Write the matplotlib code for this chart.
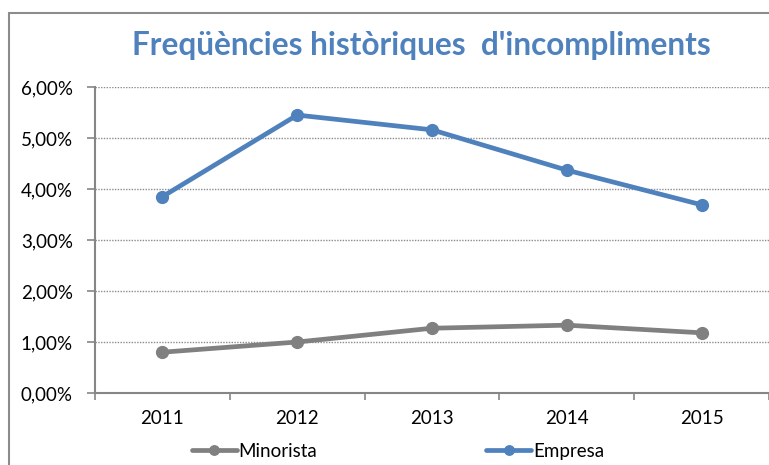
import matplotlib
matplotlib.use("Agg")
import matplotlib.pyplot as plt
from matplotlib.patches import Rectangle
from matplotlib.ticker import FuncFormatter

years = ["2011", "2012", "2013", "2014", "2015"]
minorista = [0.80, 1.00, 1.27, 1.33, 1.18]
empresa = [3.85, 5.45, 5.16, 4.37, 3.69]

plt.rcParams['font.family'] = ['Lato', 'DejaVu Sans']

W, H = 769, 465
fig = plt.figure(figsize=(W / 100, H / 100), dpi=100)

# outer chart border (cropped on right and bottom in the reference)
fig.patches.append(Rectangle((9 / W, -0.1), 1.2, (H - 13) / H + 0.1,
                             transform=fig.transFigure, fill=False,
                             edgecolor='#8c8c8c', linewidth=1.5))

ax = fig.add_axes([95 / W, (H - 393) / H, (W - 95) / W, (393 - 87) / H])
x = list(range(len(years)))

ax.plot(x, minorista, color='#808080', lw=3.4, marker='o', ms=8.5, label='Minorista',
        solid_capstyle='round', zorder=3)
ax.plot(x, empresa, color='#4F81BD', lw=3.4, marker='o', ms=8.5, label='Empresa',
        solid_capstyle='round', zorder=3)

ax.set_ylim(0, 6)
ax.set_yticks([0, 1, 2, 3, 4, 5, 6])
ax.yaxis.set_major_formatter(FuncFormatter(lambda v, p: f"{v:.2f}".replace('.', ',') + '%'))
ax.set_xlim(-0.5, (W - 163) / 136)
ax.set_xticks([i - 0.5 for i in range(len(years) + 1)])
ax.set_xticklabels([])
ax.set_xticks(x, minor=True)
ax.set_xticklabels(years, minor=True)
ax.tick_params(axis='x', which='minor', length=0, pad=12, labelsize=13.5)
ax.tick_params(axis='x', which='major', length=5, color='#868686', width=1.2)
ax.tick_params(axis='y', length=6, color='#868686', width=1.2, labelsize=13.5, pad=10)

for v in range(1, 7):
    ax.axhline(v, color='#8c8c8c', lw=1, ls=(0, (1, 1)), zorder=1)

for s in ['top', 'right']:
    ax.spines[s].set_visible(False)
for s in ['left', 'bottom']:
    ax.spines[s].set_color('#868686')
    ax.spines[s].set_linewidth(1.5)

fig.text(421 / W, (H - 45) / H, "Freqüències històriques  d'incompliments",
         ha='center', va='center', fontsize=22.7, fontweight='bold', color='#4F81BD')

fig.legend(loc='center', bbox_to_anchor=(398 / W, (H - 451) / H), ncol=2,
           frameon=False, fontsize=13.5, handlelength=2.4, handletextpad=0.1,
           columnspacing=9.0, markerscale=0.8)

fig.savefig('out.png', dpi=100)
